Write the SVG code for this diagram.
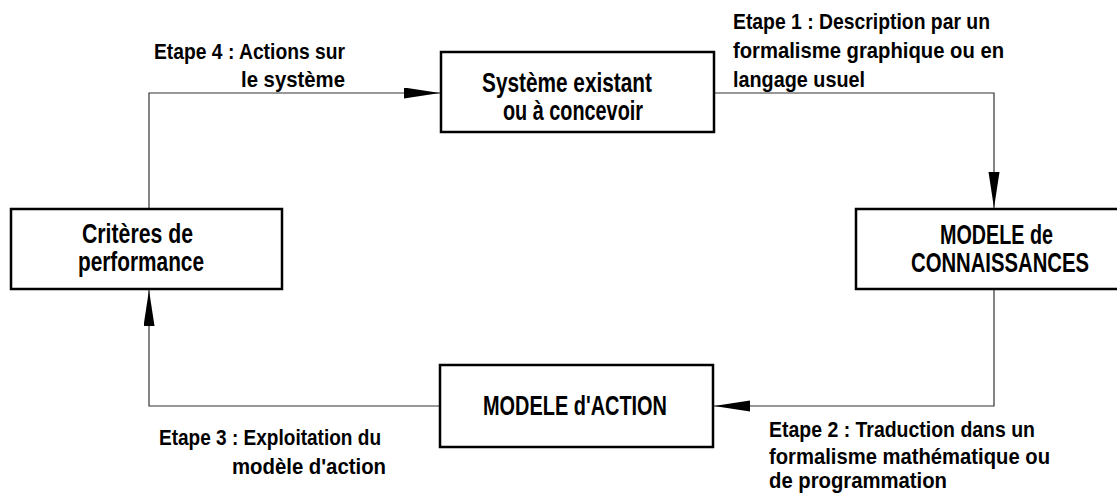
<svg xmlns="http://www.w3.org/2000/svg" width="1117" height="493" viewBox="0 0 1117 493">
<defs>
<style>
.box{fill:#fff;stroke:#000;stroke-width:2.5}
.con{fill:none;stroke:#333;stroke-width:1.2}
.bt{font-family:"Liberation Sans Narrow","Liberation Sans",Arial,sans-serif;font-weight:bold;font-size:28px;fill:#000}
.lt{font-family:"Liberation Sans Narrow","Liberation Sans",Arial,sans-serif;font-weight:bold;font-size:22px;fill:#000}
</style>
<marker id="ah" markerUnits="userSpaceOnUse" markerWidth="38" markerHeight="12" refX="36" refY="5.5" orient="auto">
<path d="M0,0 L36,5.5 L0,11 Z" fill="#000"/>
</marker>
</defs>
<g id="connectors">
<path class="con" d="M714,93 H994 V208" marker-end="url(#ah)"/>
<path class="con" d="M994,289 V406 H714" marker-end="url(#ah)"/>
<path class="con" d="M440,406 H149 V290" marker-end="url(#ah)"/>
<path class="con" d="M149,209 V93 H440" marker-end="url(#ah)"/>
</g>
<g id="systeme">
<rect class="box" x="441" y="52" width="273" height="80"/>
<text class="bt" x="482" y="92" textLength="170" lengthAdjust="spacingAndGlyphs">Système existant</text>
<text class="bt" x="503" y="120" textLength="140" lengthAdjust="spacingAndGlyphs">ou à concevoir</text>
</g>
<g id="connaissances">
<rect x="856" y="209" width="261" height="80" fill="#fff"/>
<path class="box" fill="none" d="M1117,209 H856 V289 H1117"/>
<text class="bt" x="940" y="244" textLength="113" lengthAdjust="spacingAndGlyphs">MODELE de</text>
<text class="bt" x="911" y="272" textLength="178" lengthAdjust="spacingAndGlyphs">CONNAISSANCES</text>
</g>
<g id="action">
<rect class="box" x="440" y="365" width="273" height="82"/>
<text class="bt" x="483" y="415" textLength="184" lengthAdjust="spacingAndGlyphs">MODELE d'ACTION</text>
</g>
<g id="criteres">
<rect class="box" x="11" y="209" width="271" height="80"/>
<text class="bt" x="82" y="243" textLength="111" lengthAdjust="spacingAndGlyphs">Critères de</text>
<text class="bt" x="78" y="271" textLength="126" lengthAdjust="spacingAndGlyphs">performance</text>
</g>
<g id="labels">
<text class="lt" x="733" y="29" textLength="257" lengthAdjust="spacingAndGlyphs">Etape 1 : Description par un</text>
<text class="lt" x="733" y="58" textLength="271" lengthAdjust="spacingAndGlyphs">formalisme graphique ou en</text>
<text class="lt" x="733" y="87" textLength="132" lengthAdjust="spacingAndGlyphs">langage usuel</text>
<text class="lt" x="769" y="437" textLength="266" lengthAdjust="spacingAndGlyphs">Etape 2 : Traduction dans un</text>
<text class="lt" x="769" y="464" textLength="281" lengthAdjust="spacingAndGlyphs">formalisme mathématique ou</text>
<text class="lt" x="769" y="488" textLength="178" lengthAdjust="spacingAndGlyphs">de programmation</text>
<text class="lt" x="159" y="445" textLength="222" lengthAdjust="spacingAndGlyphs">Etape 3 : Exploitation du</text>
<text class="lt" x="232" y="474" textLength="154" lengthAdjust="spacingAndGlyphs">modèle d'action</text>
<text class="lt" x="154" y="59" textLength="191" lengthAdjust="spacingAndGlyphs">Etape 4 : Actions sur</text>
<text class="lt" x="241" y="87" textLength="104" lengthAdjust="spacingAndGlyphs">le système</text>
</g>
</svg>
